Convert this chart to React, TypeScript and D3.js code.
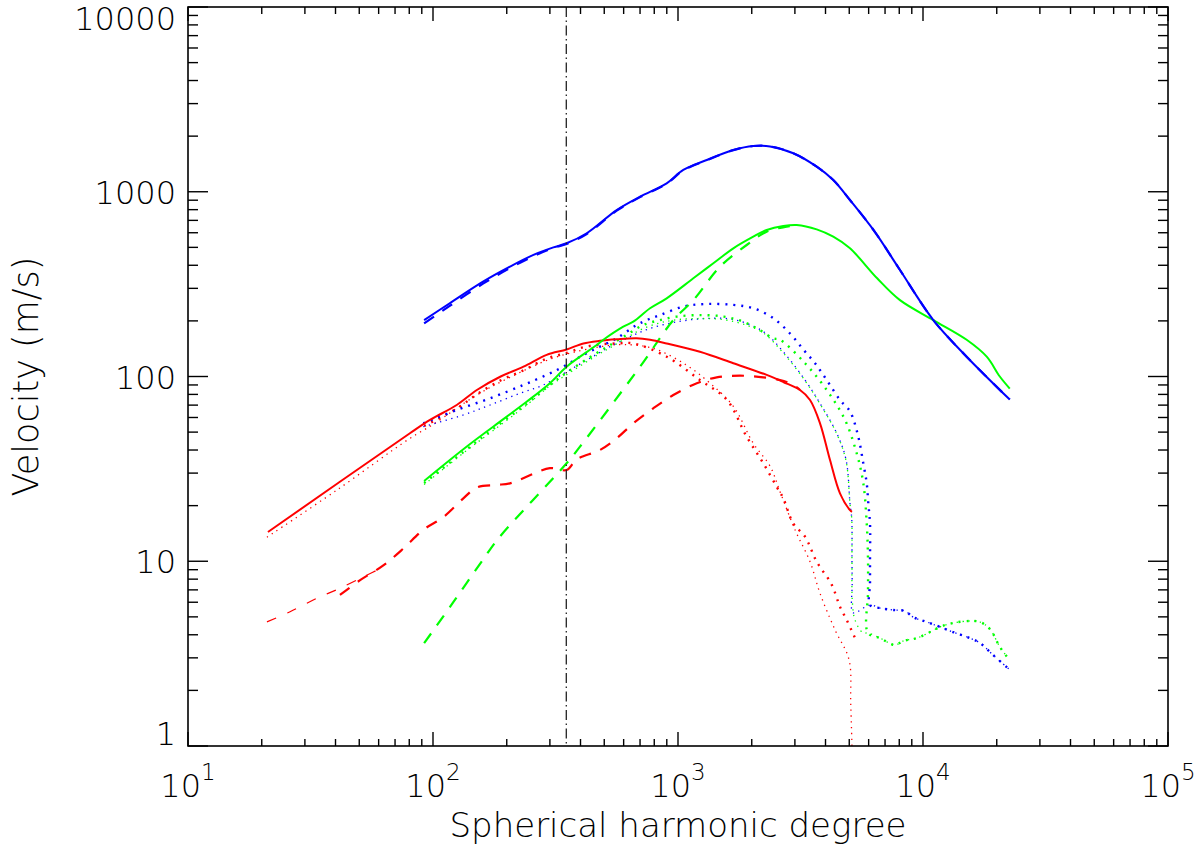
import React from 'react';
import * as d3 from 'd3';

// degree, velocity (m/s) pairs
const blueSolid = [[92,202],[117,249],[160,326],[206,393],[257,455],[310,500],[351,526],[424,596],[562,796],[700,940],[899,1111],[1051,1312],[1310,1486],[1682,1683],[2029,1769],[2375,1760],[2955,1615],[3682,1367],[4303,1158],[5035,902],[6370,605],[8054,377],[11020,202],[15070,128],[22600,75]];
const blueDashed = [[92,194],[117,241],[160,318],[206,386],[257,448],[310,496],[351,522],[424,590],[562,790],[700,935],[899,1105],[1051,1305],[1310,1480],[1682,1680],[2029,1769],[2375,1760],[2955,1615],[3682,1367],[4303,1158],[5035,902],[6370,605],[8054,377],[11020,202],[15070,128],[22600,75]];
const greenSolid = [[92,27.2],[133,40.4],[176,53.5],[241,73],[300,92],[351,113],[466,148],[496,158],[598,186],[657,198],[769,234],[899,265],[1155,340],[1394,410],[1682,494],[2029,571],[2301,621],[2690,653],[3051,661],[3682,626],[4303,571],[5035,494],[6500,340],[8054,259],[11020,202],[15070,158],[18200,128],[20580,100],[22600,86]];
const greenDashed = [[92,3.6],[121,6.0],[160,10.2],[185,13.3],[351,33.9],[398,41.7],[700,113],[957,202],[1155,259],[1484,393],[1907,515],[2301,608],[2778,647],[3100,661]];
const redSolid = [[21.2,14.4],[80.5,49.3],[97.2,58.2],[125,70.1],[151,84.5],[188,99.7],[234,113],[291,131],[351,140],[411,151],[480,156],[562,159],[678,161],[769,158],[899,151],[1229,136],[1682,118],[2301,102],[2690,93.3],[3148,84.5],[3458,74.6],[3799,55.8],[4173,35.3],[4583,23.3],[5035,18.9],[5130,18.5]];
const redDashed = [[41.7,6.57],[50.4,7.9],[62.7,9.5],[75.6,11.7],[91.3,14.8],[110,17.3],[133,21.9],[151,25.1],[182,25.9],[206,26.4],[300,31.9],[351,31.2],[386,35.6],[480,40],[562,46.3],[657,55.8],[793,67.3],[957,79.4],[1193,91.9],[1439,99],[1791,101],[2229,99],[2609,95.7],[2955,90],[3148,84.5]];
const redDashedThin = [[21,4.7],[26.1,5.33],[33.5,6.3],[41.7,7.14],[53.6,8.4],[62.7,9.3]];
const redDotted = [[92,54],[125,67],[151,80],[188,95],[234,108],[291,125],[351,134],[411,144],[480,149],[562,151],[657,151],[899,128],[1229,95.7],[1581,74.9],[1907,47.2],[2229,33.9],[2528,25.3],[2690,21.9],[2955,16],[3299,13.6],[3682,9.95],[4240,7.47],[4583,5.67],[4882,4.81],[5278,3.84]];
const redDottedThin = [[21,13.5],[40,24],[80,46],[100,55],[150,79],[200,97],[300,124],[400,138],[500,146],[600,149],[793,142],[1085,115],[1351,92],[1682,69],[2029,43.5],[2375,32.7],[2609,23.8],[3003,14.8],[3458,9.95],[3799,6.7],[4374,4.25],[4990,2.93],[5070,1.7],[5130,1.0]];
const blueTail = [[6077,5.8],[6668,5.58],[7545,5.45],[8443,5.38],[9100,4.99],[10380,4.69],[11730,4.41],[13250,4.14],[15120,3.89],[17090,3.61],[19310,3.11],[22660,2.58]];
const blueDotted = [[91.3,55.8],[125,65.9],[171,76.2],[234,90],[291,102],[340,113],[411,131],[480,145],[562,161],[678,190],[745,202],[844,215],[1051,239],[1310,247],[1682,244],[2029,234],[2449,207],[2865,171],[3246,140],[3624,118],[4046,95.7],[4583,74.6],[5035,64.8],[5443,47.2],[5705,33.9],[5893,26.4],[5981,20.6],[6077,16],[6077,10.2],[6077,7.6]];
const blueDottedThin = [[91.3,53.5],[133,61.9],[171,70.1],[226,81],[282,90],[351,106],[437,125.5],[528,145],[637,164],[769,182],[1000,198],[1300,206],[1700,203],[2229,175],[2690,136],[3299,95.7],[3799,71.6],[4445,49.3],[4851,35.5],[5035,20.6],[5117,17.1],[5130,10.2],[5140,7.6],[5150,5.3],[5278,5.25]];
const greenTail = [[5965,4.09],[6668,3.84],[7690,3.52],[8280,3.70],[9450,3.84],[10690,4.14],[11730,4.41],[13250,4.63],[15550,4.75],[17090,4.69],[18750,4.30],[20580,3.44],[22210,3.0]];
const greenDotted = [[92,26.5],[133,39],[176,52],[241,71],[300,90],[362,108],[466,134],[528,148],[617,168],[722,190],[844,202],[988,211],[1229,215],[1538,211],[1847,198],[2162,178],[2449,161],[2609,158],[3299,118],[4046,84.5],[4805,58.2],[5362,38.4],[5705,26.5],[5893,16],[5965,10.2],[5965,6.8]];
const greenDottedThin = [[92,26],[133,38.5],[176,51],[241,70],[300,89],[362,105],[466,130],[528,143],[617,162],[722,182],[844,195],[988,203],[1229,206],[1538,203],[1847,192],[2229,172],[2690,134],[3299,95],[3799,71],[4445,49],[4851,35],[5035,20.5],[5117,17],[5130,10],[5150,6],[5278,4.81],[5690,4.09]];
const markerDegree = 350;

const styles: any = {
  solid: { w: 2, dash: undefined },
  dashed: { w: 2.2, dash: '12,10' },
  dashedThin: { w: 1.2, dash: '10,12' },
  dotted: { w: 2.4, dash: '2,6' },
  dottedThin: { w: 1.3, dash: '1.3,4.5' },
};

const layers: any[] = [
  [redDottedThin, '#ff0000', 'dottedThin'],
  [redDotted, '#ff0000', 'dotted'],
  [blueDottedThin.concat(blueTail), '#0000ff', 'dottedThin'],
  [greenDottedThin.concat(greenTail), '#00ff00', 'dottedThin'],
  [greenDotted.concat(greenTail), '#00ff00', 'dotted'],
  [blueDotted.concat(blueTail), '#0000ff', 'dotted'],
  [redDashedThin, '#ff0000', 'dashedThin'],
  [redDashed, '#ff0000', 'dashed'],
  [greenDashed, '#00ff00', 'dashed'],
  [blueDashed, '#0000ff', 'dashed'],
  [redSolid, '#ff0000', 'solid'],
  [greenSolid, '#00ff00', 'solid'],
  [blueSolid, '#0000ff', 'solid'],
];

export default function App() {
  const left = 188, right = 1168, top = 7, bottom = 746;
  const x = d3.scaleLog().domain([10, 1e5]).range([left, right]);
  const y = d3.scaleLog().domain([1, 1e4]).range([bottom, top]);
  const line = d3.line<number[]>()
    .x(d => x(d[0]))
    .y(d => y(d[1]))
    .curve(d3.curveCatmullRom.alpha(0.5));
  const isMajor = (v: number) => Math.abs(Math.log10(v) - Math.round(Math.log10(v))) < 1e-9;
  const xt = x.ticks();
  const yt = y.ticks();

  return (
    <svg width={1203} height={848} style={{ position: 'absolute', left: 0, top: 0, background: '#fff' }}
      fontFamily="DejaVu Sans" fontWeight={200}>
      <defs>
        <clipPath id="plotArea">
          <rect x={left} y={top} width={right - left} height={bottom - top} />
        </clipPath>
      </defs>

      <g clipPath="url(#plotArea)">
        {layers.map((l, i) => (
          <path key={i} d={line(l[0]) || ''} fill="none" stroke={l[1]}
            strokeWidth={styles[l[2]].w} strokeDasharray={styles[l[2]].dash} strokeLinejoin="round" />
        ))}
        <line x1={x(markerDegree)} x2={x(markerDegree)} y1={top} y2={bottom}
          stroke="#222" strokeWidth={1.3} strokeDasharray="10,3.5,1.5,3.5" />
      </g>

      <g stroke="#000" strokeWidth={1.4}>
        {xt.map((v, i) => {
          const len = isMajor(v) ? 14 : 7;
          return (
            <g key={'x' + i}>
              <line x1={x(v)} x2={x(v)} y1={bottom} y2={bottom - len} />
              <line x1={x(v)} x2={x(v)} y1={top} y2={top + len} />
            </g>
          );
        })}
        {yt.map((v, i) => {
          const len = isMajor(v) ? 20 : 10;
          return (
            <g key={'y' + i}>
              <line x1={left} x2={left + len} y1={y(v)} y2={y(v)} />
              <line x1={right} x2={right - len} y1={y(v)} y2={y(v)} />
            </g>
          );
        })}
        <rect x={left} y={top} width={right - left} height={bottom - top} fill="none" strokeWidth={1.6} />
      </g>

      <g fontSize={32} fill="#000">
        {yt.filter(isMajor).map((v, i, arr) => {
          let base = y(v) + 12;
          if (i === 0) base = bottom - 1;
          if (i === arr.length - 1) base = top + 23;
          return <text key={'yl' + i} x={176} y={base} textAnchor="end">{d3.format('d')(v)}</text>;
        })}
        {xt.filter(isMajor).map((v, i) => (
          <text key={'xl' + i} x={x(v)} y={797} textAnchor="middle">
            10<tspan fontSize={23} dy={-17}>{Math.round(Math.log10(v))}</tspan>
          </text>
        ))}
      </g>

      <text x={(left + right) / 2} y={837} textAnchor="middle" fontSize={34}>Spherical harmonic degree</text>
      <text transform={`translate(38, ${(top + bottom) / 2}) rotate(-90)`} textAnchor="middle" fontSize={35}>Velocity (m/s)</text>
    </svg>
  );
}
